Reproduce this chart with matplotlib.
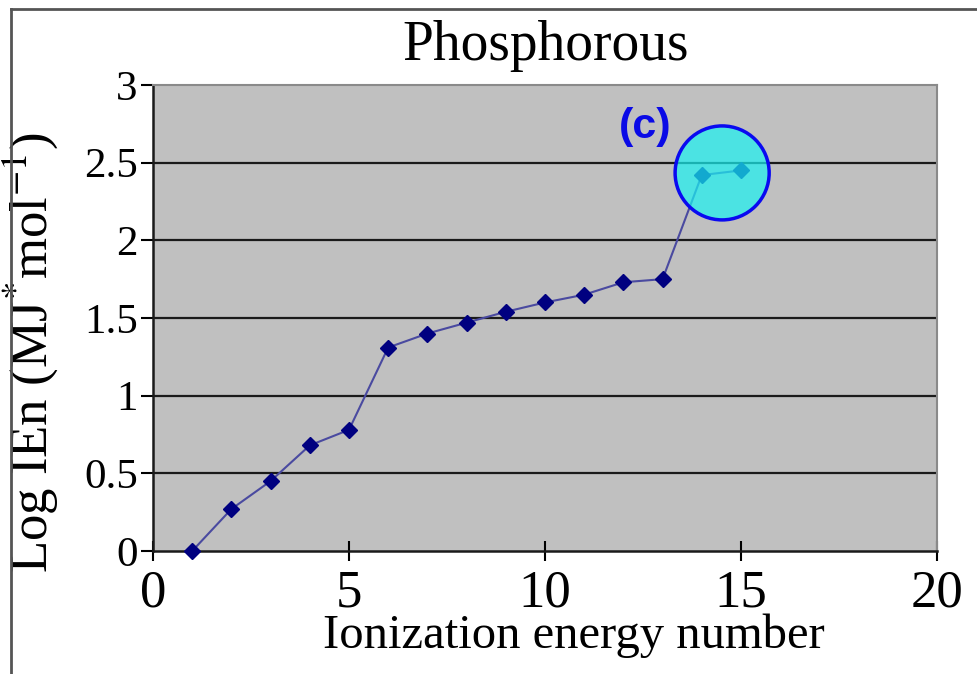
import matplotlib.pyplot as plt
from matplotlib.patches import Ellipse
from matplotlib.lines import Line2D

plt.rcParams['font.family'] = ['Liberation Serif', 'DejaVu Serif']
plt.rcParams['mathtext.fontset'] = 'stix'

# Log of successive ionization energies for phosphorus
ie_number = [1, 2, 3, 4, 5, 6, 7, 8, 9, 10, 11, 12, 13, 14, 15]
log_ie = [0.0, 0.27, 0.45, 0.68, 0.78, 1.31, 1.40, 1.47, 1.54, 1.60,
          1.65, 1.73, 1.75, 2.42, 2.45]
x_ticks = [0, 5, 10, 15, 20]
y_ticks = [0, 0.5, 1, 1.5, 2, 2.5, 3]
y_tick_labels = ['0', '0.5', '1', '1.5', '2', '2.5', '3']

fig = plt.figure(figsize=(9.77, 6.74), dpi=100)
ax = fig.add_axes([0.1566, 0.1825, 0.8024, 0.6914])
ax.set_facecolor('#c0c0c0')

# horizontal gridlines like the spreadsheet chart
for y in y_ticks[1:-1]:
    ax.axhline(y, color='#1a1a1a', lw=1.6, zorder=1)

ax.plot(ie_number, log_ie, color='#4a4aa0', lw=1.5, marker='D',
        markersize=8, markerfacecolor='#000080', markeredgecolor='#000080',
        zorder=3, clip_on=False)

ax.set_xlim(0, 20)
ax.set_ylim(0, 3)
ax.set_xticks(x_ticks)
ax.set_yticks(y_ticks)
ax.set_yticklabels(y_tick_labels)
ax.tick_params(axis='x', direction='inout', length=14, width=1.5,
               labelsize=38, pad=6)
ax.tick_params(axis='y', direction='out', length=9, width=1.5,
               labelsize=31, pad=2)

for side in ['left', 'bottom']:
    ax.spines[side].set_color('#1a1a1a')
    ax.spines[side].set_linewidth(1.8)
for side in ['top', 'right']:
    ax.spines[side].set_color('#8a8a8a')
    ax.spines[side].set_linewidth(1.5)

ax.set_xlabel('Ionization energy number', fontsize=35)
ax.xaxis.set_label_coords(0.537, -0.135)
ax.set_ylabel(r'Log IEn (MJ$^{*}$mol$^{-1}$)', fontsize=38)
ax.yaxis.set_label_coords(-0.118, 0.425)

fig.text(0.558, 0.932, 'Phosphorous', fontsize=40, ha='center', va='center')

# highlighted region (c)
circle = Ellipse((14.52, 2.434), width=2.4, height=0.605,
                 facecolor=(0.1, 0.95, 0.95, 0.7), edgecolor='#0a0af0',
                 lw=2.5, zorder=4)
ax.add_patch(circle)
ax.text(12.55, 2.73, '(c)', fontsize=31, fontweight='bold',
        family='Liberation Sans', color='#0a0ae6', ha='center', va='center',
        zorder=5)

# outer chart frame
fig.add_artist(Line2D([0.011, 0.011], [0.0, 0.986], color='#555555', lw=2,
                      transform=fig.transFigure))
fig.add_artist(Line2D([0.011, 1.0], [0.986, 0.986], color='#555555', lw=2,
                      transform=fig.transFigure))

fig.savefig('out.png', dpi=100)
